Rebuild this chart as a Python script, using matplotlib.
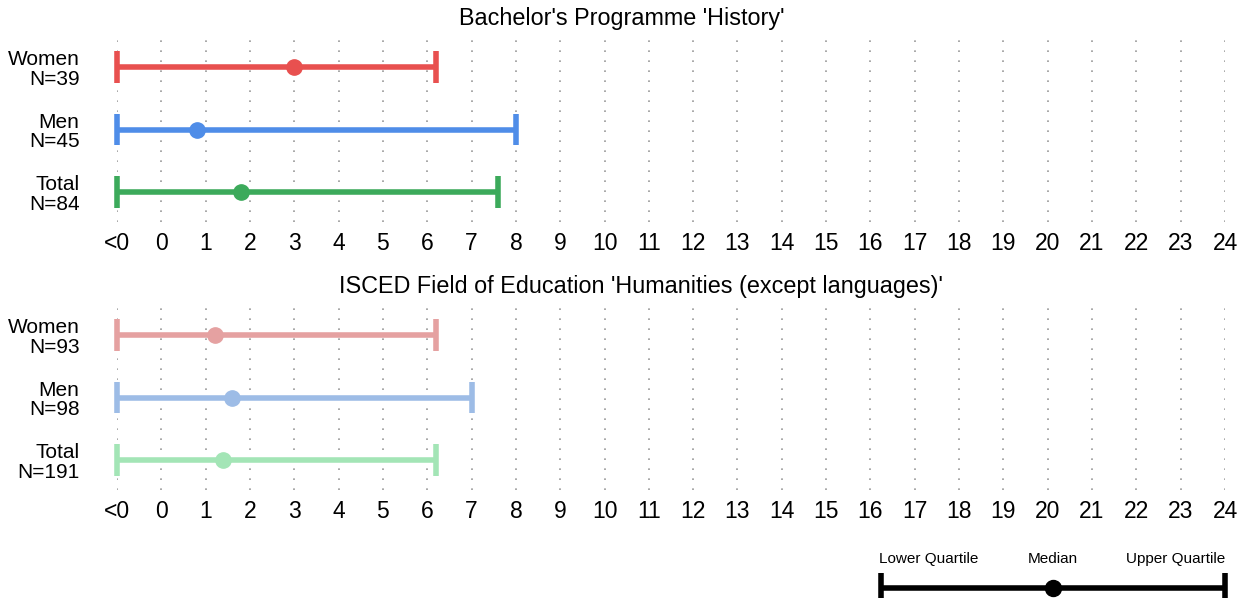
import matplotlib.pyplot as plt
import numpy as np

plt.rcParams['font.family'] = ['Liberation Sans', 'DejaVu Sans']

# x axis: position -1 stands for "<0"
tick_pos = list(range(-1, 25))
tick_labels = ['<0'] + [str(i) for i in range(0, 25)]

groups = ['Women', 'Men', 'Total']

# panel 1: Bachelor's Programme 'History'
title1 = "Bachelor's Programme 'History'"
n1 = [39, 45, 84]
lower1 = [-1, -1, -1]
median1 = [3.0, 0.8, 1.8]
upper1 = [6.2, 8.0, 7.6]
colors1 = ['#e8504f', '#4f8de8', '#3caa5b']

# panel 2: ISCED field
title2 = "ISCED Field of Education 'Humanities (except languages)'"
n2 = [93, 98, 191]
lower2 = [-1, -1, -1]
median2 = [1.2, 1.6, 1.4]
upper2 = [6.2, 7.0, 6.2]
colors2 = ['#e5a1a1', '#9dbce6', '#a3e5b6']

W, H = 1248, 598
fig = plt.figure(figsize=(W / 100, H / 100), dpi=100)

x0, x1 = 117, 1225


def panel(top_px, title, title_x, n, lo, med, hi, cols):
    # rows start 29 px below the top, 62.5 px apart
    ax_top, ax_bot = top_px, top_px + 184
    ax = fig.add_axes([x0 / W, 1 - ax_bot / H, (x1 - x0) / W, (ax_bot - ax_top) / H])
    r0 = top_px + 29
    ax.set_ylim((ax_bot - r0) / 62.5, (ax_top - r0) / 62.5)
    ax.set_xlim(-1, 24)
    for i in range(3):
        ax.plot([lo[i], hi[i]], [i, i], color=cols[i], lw=4, solid_capstyle='butt', clip_on=False, zorder=3)
        for xe in (lo[i], hi[i]):
            ax.plot([xe, xe], [i - 0.255, i + 0.255], color=cols[i], lw=4, solid_capstyle='butt', clip_on=False, zorder=3)
        ax.plot(med[i], i, 'o', color=cols[i], ms=11, clip_on=False, zorder=4)
    for xv in tick_pos:
        ax.axvline(xv, color='#999999', lw=1.2, ls=(0, (1, 5)), zorder=1)
    ax.set_xticks(tick_pos)
    ax.set_xticklabels(tick_labels, fontsize=16.5)
    ax.set_yticks(range(3))
    ax.set_yticklabels([f'{g}\nN={k}' for g, k in zip(groups, n)], fontsize=15, ha='right', linespacing=1.05)
    ax.tick_params(length=0, axis='x', pad=7.5)
    ax.tick_params(length=0, axis='y', pad=27)
    for s in ax.spines.values():
        s.set_visible(False)
    fig.text(title_x / W, 1 - (top_px - 20) / H, title, ha='center', va='center', fontsize=16.8)
    return ax


panel(38, title1, 622, n1, lower1, median1, upper1, colors1)
panel(306, title2, 641, n2, lower2, median2, upper2, colors2)

# legend key
lx0, lx1 = 881, 1225
lg = fig.add_axes([lx0 / W, 0, (lx1 - lx0) / W, 30 / H])
lg.set_xlim(0, 1)
lg.set_ylim(0, 1)
lg.axis('off')
yl = 10 / 30
lg.plot([0, 1], [yl, yl], color='black', lw=4, solid_capstyle='butt', clip_on=False)
for xe in (0, 1):
    lg.plot([xe, xe], [yl - 0.5, yl + 0.5], color='black', lw=4, solid_capstyle='butt', clip_on=False)
lg.plot(0.5, yl, 'o', color='black', ms=11.5, clip_on=False)
for xt, t in [(929, 'Lower Quartile'), (1053, 'Median'), (1176, 'Upper Quartile')]:
    fig.text(xt / W, 1 - 559 / H, t, ha='center', va='center', fontsize=11)

fig.savefig('out.png', dpi=100)
